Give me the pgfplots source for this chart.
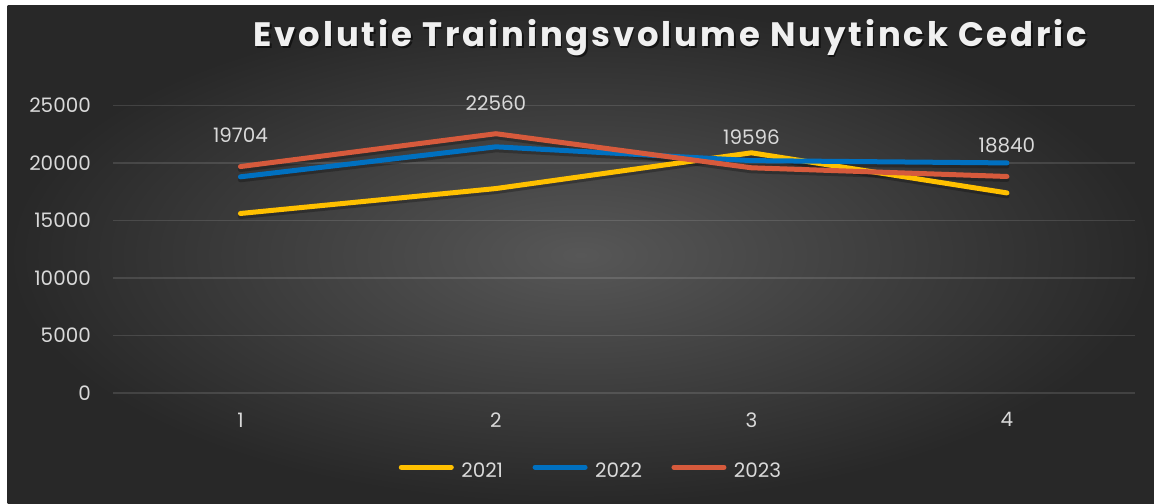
\documentclass[border=0pt]{standalone}
\usepackage{fontspec}
\setmainfont{Poppins}
\newfontfamily\titlefont{Poppins}[LetterSpace=8.5]
\usepackage{pgfplots}
\pgfplotsset{compat=1.18}
\definecolor{c21}{HTML}{FFC000}
\definecolor{c22}{HTML}{0070C0}
\definecolor{c23}{HTML}{D65A3C}
\definecolor{txt}{HTML}{D9D9D9}
\definecolor{bgin}{HTML}{575757}
\definecolor{bgout}{HTML}{282828}
\begin{document}
\begin{tikzpicture}[x=1bp,y=1bp]
\fill[white] (0,0) rectangle (1154,504);
\shade[inner color=bgin, outer color=bgout] (7.5,0) rectangle (1154,498);
\node[anchor=base, text=black, opacity=0.55, font=\titlefont\bfseries\fontsize{34}{40}\selectfont] at (672,455.8) {Evolutie Trainingsvolume Nuytinck Cedric};
\node[anchor=base, text=white!94!black, font=\titlefont\bfseries\fontsize{34}{40}\selectfont] at (670.4,457.3) {Evolutie Trainingsvolume Nuytinck Cedric};
\begin{axis}[
  at={(112.7bp,111bp)}, anchor=south west,
  scale only axis, width=1022bp, height=287.3bp,
  xmin=0.5, xmax=4.5, ymin=0, ymax=25000,
  clip=false,
  scaled y ticks=false,
  axis line style={draw=none},
  xtick={1,2,3,4}, xticklabels={1,2,3,4},
  ytick={0,5000,10000,15000,20000,25000},
  yticklabels={0,5000,10000,15000,20000,25000},
  major tick length=0pt,
  ymajorgrids,
  grid style={white, opacity=0.12, line width=1.3bp},
  tick label style={font=\fontsize{20}{24}\selectfont, text=txt, inner sep=0pt},
  yticklabel style={anchor=east, xshift=-21.7bp},
  xticklabel style={anchor=north, yshift=-19.5bp},
  legend columns=3,
  legend style={at={(0.467,-0.2705)}, anchor=center, draw=none, fill=none,
    font=\fontsize{20}{24}\selectfont, text=txt, inner sep=0pt, column sep=0pt,
    nodes={inner sep=0pt},
    /tikz/every odd column/.append style={column sep=7.5bp},
    /tikz/every even column/.append style={column sep=29.5bp}},
  legend image code/.code={\draw[#1, line width=5bp, line cap=round] (0bp,0.35em) -- (50bp,0.35em);},
  every axis plot/.append style={line width=5bp, line cap=round, line join=round},
]
\addplot[black, opacity=0.25, yshift=-3bp, forget plot] coordinates {(1,15620) (2,17790) (3,20900) (4,17410)};
\addplot[black, opacity=0.25, yshift=-3bp, forget plot] coordinates {(1,18810) (2,21420) (3,20220) (4,20020)};
\addplot[black, opacity=0.25, yshift=-3bp, forget plot] coordinates {(1,19704) (2,22560) (3,19596) (4,18840)};
\addplot[c21] coordinates {(1,15620) (2,17790) (3,20900) (4,17410)};
\addlegendentry{2021}
\addplot[c22] coordinates {(1,18810) (2,21420) (3,20220) (4,20020)};
\addlegendentry{2022}
\addplot[c23, nodes near coords, point meta=explicit symbolic,
  every node near coord/.append style={font=\fontsize{20}{24}\selectfont, text=txt, anchor=center, yshift=31bp, inner sep=0pt}]
  coordinates {(1,19704)[19704] (2,22560)[22560] (3,19596)[19596] (4,18840)[18840]};
\addlegendentry{2023}
\end{axis}
\end{tikzpicture}
\end{document}
